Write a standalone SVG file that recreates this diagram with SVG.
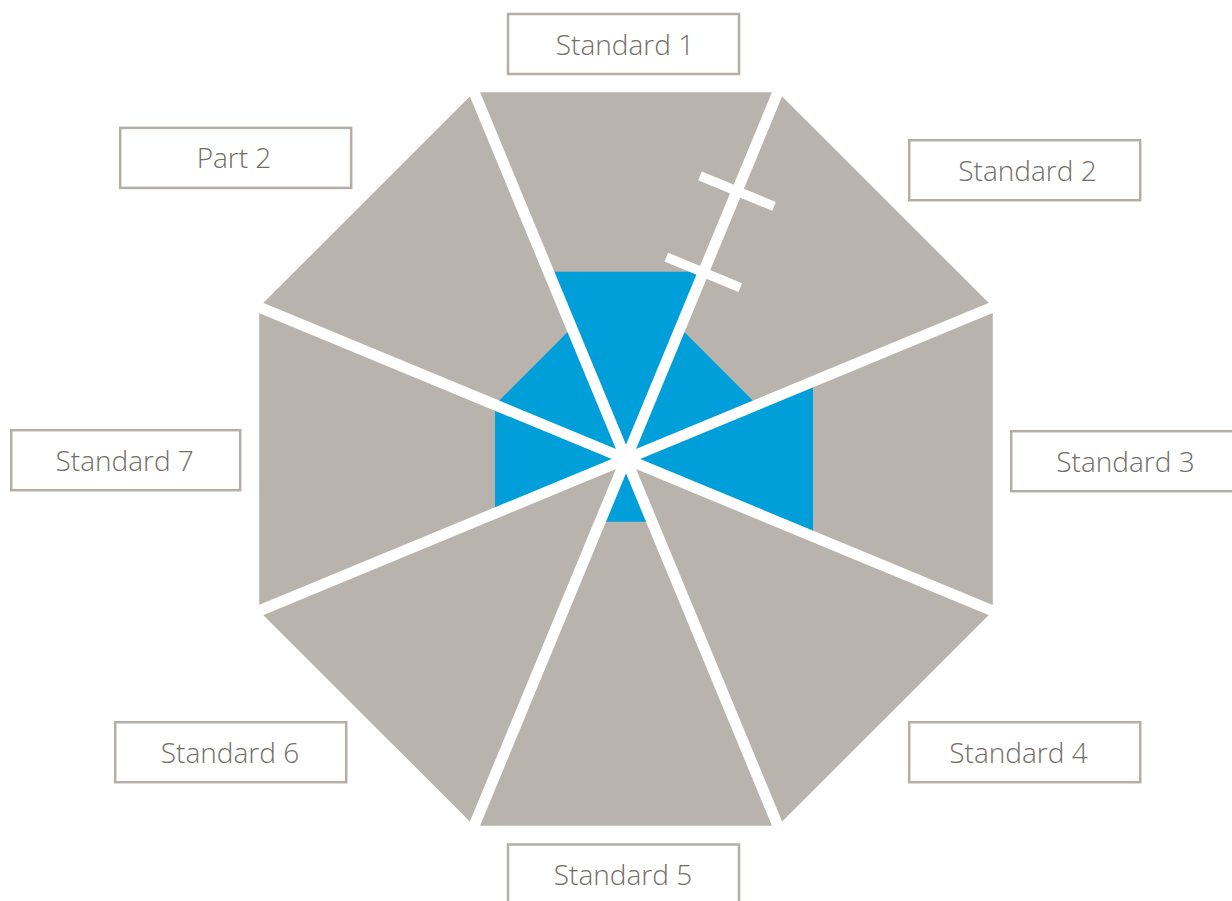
<svg xmlns="http://www.w3.org/2000/svg" width="1232" height="901" viewBox="0 0 1232 901">
  <style>
    .seg { fill: #b8b3ac; }
    .score { fill: #009fda; }
    .divider { stroke: #ffffff; stroke-width: 11; stroke-linecap: butt; fill: none; }
    .tick { stroke: #ffffff; stroke-width: 9.5; stroke-linecap: butt; fill: none; }
    .box { fill: #ffffff; stroke: #b4aea6; stroke-width: 2.5; }
    .label { font-family: "Open Sans", "Noto Sans", "Liberation Sans", sans-serif; font-weight: 300; font-size: 28px; fill: #726d67; text-anchor: middle; }
  </style>
  <rect width="1232" height="901" fill="#ffffff"/>

  <!-- octagon background, centre (626,459) -->
  <g id="octagon">
    <polygon class="seg" points="474.1,92.2 777.9,92.2 992.8,307.1 992.8,610.9 777.9,825.8 474.1,825.8 259.2,610.9 259.2,307.1"/>
  </g>

  <!-- filled levels per segment -->
  <g id="scores">
    <polygon class="score" points="626,459 548.5,271.8 703.5,271.8"/>
    <polygon class="score" points="626,459 680.3,328 757,404.7"/>
    <polygon class="score" points="626,459 813,381.5 813,536.5"/>
    <polygon class="score" points="626,459 652,521.8 600,521.8"/>
    <polygon class="score" points="626,459 495,513.3 495,404.7"/>
    <polygon class="score" points="626,459 495,404.7 571.7,328"/>
  </g>

  <!-- spokes separating the segments, plus the two marks on the first spoke -->
  <g id="connectors">
    <line class="divider" x1="626" y1="459" x2="466.5" y2="73.9"/>
    <line class="divider" x1="626" y1="459" x2="785.5" y2="73.9"/>
    <line class="divider" x1="626" y1="459" x2="1011.1" y2="299.5"/>
    <line class="divider" x1="626" y1="459" x2="1011.1" y2="618.5"/>
    <line class="divider" x1="626" y1="459" x2="785.5" y2="844.1"/>
    <line class="divider" x1="626" y1="459" x2="466.5" y2="844.1"/>
    <line class="divider" x1="626" y1="459" x2="240.9" y2="618.5"/>
    <line class="divider" x1="626" y1="459" x2="240.9" y2="299.5"/>
    <line class="tick" x1="700.0" y1="175.8" x2="774.0" y2="206.4"/>
    <line class="tick" x1="666.3" y1="257.1" x2="740.3" y2="287.7"/>
  </g>

  <g id="standard-1">
    <rect class="box" x="508" y="14" width="231" height="60"/>
    <text class="label" x="625" y="54.5">Standard 1</text>
  </g>
  <g id="standard-2">
    <rect class="box" x="909.2" y="140.2" width="231" height="60"/>
    <text class="label" x="1027.5" y="180.7">Standard 2</text>
  </g>
  <g id="standard-3">
    <rect class="box" x="1011.2" y="431.2" width="231" height="60"/>
    <text class="label" x="1125.5" y="471.7">Standard 3</text>
  </g>
  <g id="standard-4">
    <rect class="box" x="909.2" y="722.2" width="231" height="60"/>
    <text class="label" x="1018.5" y="762.7">Standard 4</text>
  </g>
  <g id="standard-5">
    <rect class="box" x="508" y="844.5" width="231" height="60"/>
    <text class="label" x="623" y="885">Standard 5</text>
  </g>
  <g id="standard-6">
    <rect class="box" x="115.2" y="722.2" width="231" height="60"/>
    <text class="label" x="230" y="762.7">Standard 6</text>
  </g>
  <g id="standard-7">
    <rect class="box" x="11.2" y="430.2" width="229" height="60"/>
    <text class="label" x="124.7" y="470.7">Standard 7</text>
  </g>
  <g id="part-2">
    <rect class="box" x="120.2" y="127.9" width="231" height="60"/>
    <text class="label" x="234" y="168.4">Part 2</text>
  </g>
</svg>
